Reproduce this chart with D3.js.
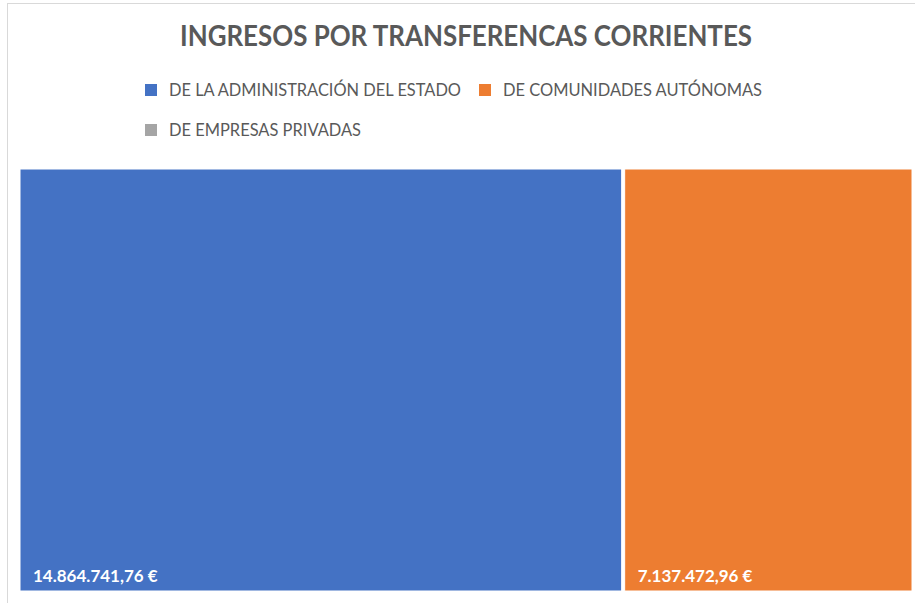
<!DOCTYPE html>
<html>
<head>
<meta charset="utf-8">
<script src="https://cdn.jsdelivr.net/npm/d3@7"></script>
<style>
body{margin:0;background:#fff;}
svg{display:block;}
</style>
</head>
<body>
<script>
var categories = ['DE LA ADMINISTRACIÓN DEL ESTADO','DE COMUNIDADES AUTÓNOMAS','DE EMPRESAS PRIVADAS'];
var values = [14864741.76, 7137472.96, 0];
var labels = ['14.864.741,76 €','7.137.472,96 €',''];
var colors = ['#4472C4','#ED7D31','#A5A5A5'];

var svg = d3.select("body").append("svg").attr("width",915).attr("height",603);

// chart frame (cropped on the right and bottom)
svg.append("rect")
    .attr("x",7.5).attr("y",3.5)
    .attr("width",1000).attr("height",700)
    .attr("fill","none").attr("stroke","#d9d9d9");

svg.append("text")
    .attr("x",466).attr("y",46)
    .attr("text-anchor","middle")
    .attr("font-family","Lato, 'Open Sans', sans-serif")
    .attr("font-weight","bold")
    .attr("font-size","29")
    .attr("fill","#595959")
    .attr("textLength",572).attr("lengthAdjust","spacingAndGlyphs")
    .text("INGRESOS POR TRANSFERENCAS CORRIENTES");

// legend
var legendPos = [[145,84,292],[479,84,259],[145,124,192]];
var legend = svg.selectAll("g.legend")
    .data(categories)
    .enter().append("g")
      .attr("class","legend")
      .attr("transform",function(d,i){return "translate("+legendPos[i][0]+","+legendPos[i][1]+")";});
legend.append("rect")
    .attr("width",12).attr("height",12)
    .attr("fill",function(d,i){return colors[i];});
legend.append("text")
    .attr("x",24).attr("y",12)
    .attr("font-family","Lato, 'Open Sans', sans-serif")
    .attr("font-size","17")
    .attr("fill","#595959")
    .attr("textLength",function(d,i){return legendPos[i][2];})
    .attr("lengthAdjust","spacingAndGlyphs")
    .text(function(d){return d;});

// treemap
var root = d3.hierarchy({children: categories.map(function(c,i){return {name:c, value:values[i], idx:i};})})
    .sum(function(d){return d.value || 0;});

d3.treemap()
    .tile(d3.treemapDice)
    .size([892,422])
    .paddingInner(3)(root);

var cells = svg.append("g")
    .attr("transform","translate(20,169)")
    .selectAll("g")
    .data(root.leaves().filter(function(d){return d.value > 0;}))
    .enter().append("g")
      .attr("transform",function(d){return "translate("+d.x0+","+d.y0+")";});

cells.append("rect")
    .attr("width",function(d){return d.x1-d.x0;})
    .attr("height",function(d){return d.y1-d.y0;})
    .attr("fill",function(d){return colors[d.data.idx];})
    .attr("stroke","#fff").attr("stroke-width",1);

cells.append("text")
    .attr("x",13)
    .attr("y",function(d){return d.y1-d.y0-9;})
    .attr("font-family","Lato, 'Open Sans', sans-serif")
    .attr("font-weight","bold")
    .attr("font-size","17")
    .attr("fill","#fff")
    .text(function(d){return labels[d.data.idx];});
</script>
</body>
</html>
